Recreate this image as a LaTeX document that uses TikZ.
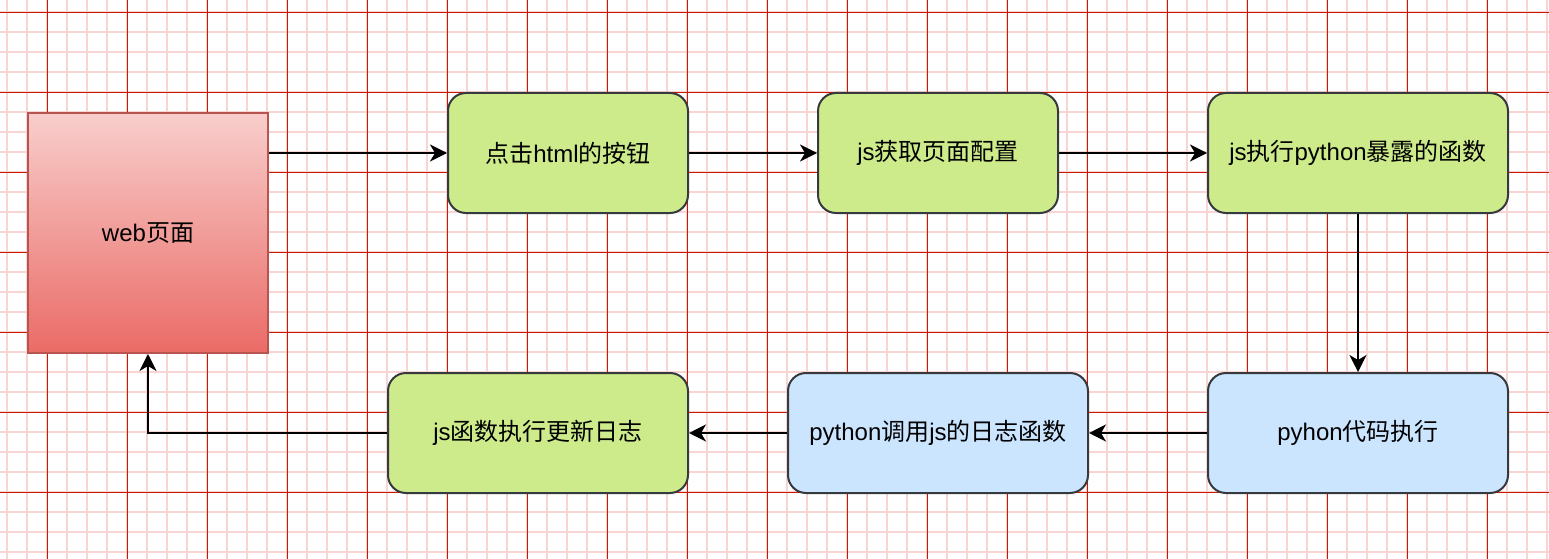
\documentclass[tikz,border=0pt]{standalone}
\usepackage{fontspec}
\setmainfont{Liberation Sans}
\newfontfamily\cjkf{Noto Sans CJK SC}
\newcommand\zh[1]{{\cjkf #1}}
\usetikzlibrary{arrows.meta}
\definecolor{gridminor}{HTML}{F8D4D2}
\definecolor{gridmajor}{HTML}{CC1800}
\definecolor{greenfill}{HTML}{CDEB8B}
\definecolor{bluefill}{HTML}{CCE5FF}
\definecolor{boxborder}{HTML}{36393D}
\definecolor{redtop}{HTML}{F8CECC}
\definecolor{redbottom}{HTML}{EA6B66}
\definecolor{redborder}{HTML}{B85450}
\tikzset{
  minorline/.style={gridminor, line width=2pt},
  majorline/.style={gridmajor, line width=1pt},
  procbox/.style={draw=boxborder, line width=2pt, rounded corners=18pt,
    minimum height=120pt, inner sep=0pt, font=\fontsize{24}{28}\selectfont, text=black},
  greenbox/.style={procbox, fill=greenfill},
  bluebox/.style={procbox, fill=bluefill},
  webbox/.style={draw=redborder, line width=2pt, top color=redtop, bottom color=redbottom,
    minimum width=240pt, minimum height=240pt, inner sep=0pt,
    font=\fontsize{24}{28}\selectfont, text=black},
  arr/.style={draw=black, line width=2pt, -{Stealth[length=17pt,width=17pt,inset=5pt]}}
}
\begin{document}
\begin{tikzpicture}[x=1pt,y=-1pt]
\useasboundingbox (0,0) rectangle (1549,559);
\fill[white] (0,0) rectangle (1549,559);
\foreach \x in {7,27,...,1547} \draw[minorline] (\x,0) -- (\x,559);
\foreach \y in {12,32,...,552} \draw[minorline] (0,\y) -- (1549,\y);
\foreach \x in {47.5,127.5,...,1527.5} \draw[majorline] (\x,0) -- (\x,559);
\foreach \y in {12.5,92.5,...,492.5} \draw[majorline] (0,\y) -- (1549,\y);

\node[webbox] (web) at (148,233) {web\zh{页面}};
\node[greenbox, minimum width=240pt] (b1) at (568,153) {\zh{点击}html\zh{的按钮}};
\node[greenbox, minimum width=240pt] (b2) at (938,153) {js\zh{获取页面配置}};
\node[greenbox, minimum width=300pt] (b3) at (1358,153) {js\zh{执行}python\zh{暴露的函数}};
\node[bluebox, minimum width=300pt] (b4) at (1358,433) {pyhon\zh{代码执行}};
\node[bluebox, minimum width=300pt] (b5) at (938,433) {python\zh{调用}js\zh{的日志函数}};
\node[greenbox, minimum width=300pt] (b6) at (538,433) {js\zh{函数执行更新日志}};

\draw[arr] (web.east |- b1.west) -- (b1.west);
\draw[arr] (b1.east) -- (b2.west);
\draw[arr] (b2.east) -- (b3.west);
\draw[arr] (b3.south) -- (b4.north);
\draw[arr] (b4.west) -- (b5.east);
\draw[arr] (b5.west) -- (b6.east);
\draw[arr] (b6.west) -| (web.south);
\end{tikzpicture}
\end{document}
